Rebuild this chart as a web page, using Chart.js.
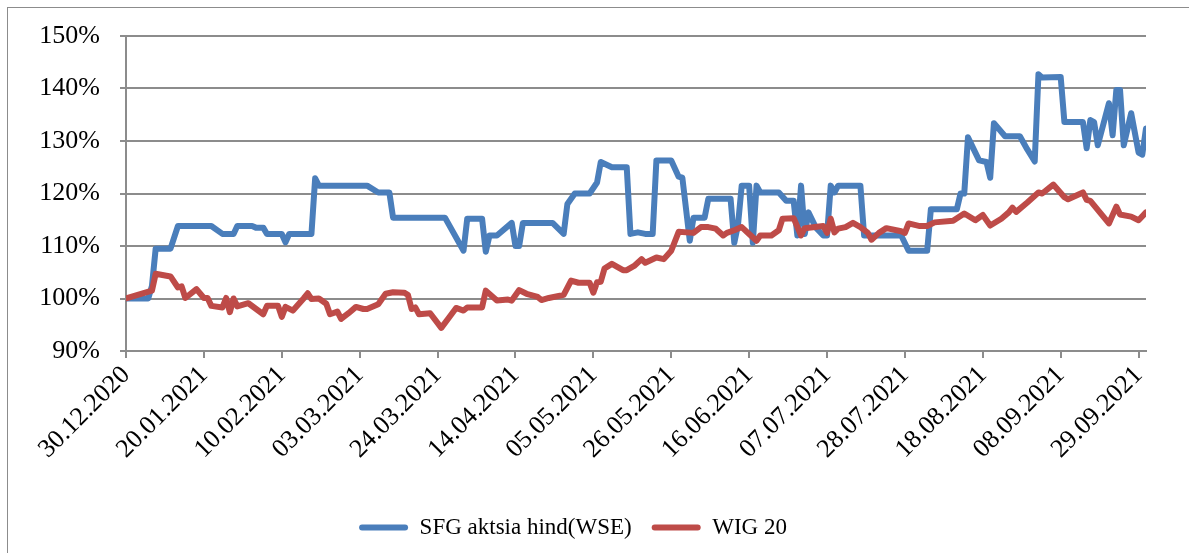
<!DOCTYPE html>
<html>
<head>
<meta charset="utf-8">
<script src="https://cdn.jsdelivr.net/npm/chart.js@4.4.0/dist/chart.umd.min.js"></script>
<style>
  html, body { margin: 0; padding: 0; background: #fff; }
  #wrap { position: relative; width: 1189px; height: 553px; overflow: hidden; }
  #frame { position: absolute; left: 7px; top: 7px; width: 1200px; height: 600px;
           border-left: 1px solid #8c8c8c; border-top: 1px solid #8c8c8c; }
  canvas { position: absolute; left: 0; top: 0; }
</style>
</head>
<body>
<div id="wrap">
  <div id="frame"></div>
  <canvas id="chart" width="1189" height="553"></canvas>
</div>
<script>
// days counted from 30.12.2020, values in %
const sfgDays = [0, 6, 7, 8, 12, 14, 23, 26, 29, 30, 34, 35, 37, 38, 42, 43, 44, 50, 51, 52,
  65, 68, 71, 72, 86, 91, 92, 96, 97, 98, 100, 104, 105, 106, 107, 115, 118, 119, 121, 125,
  127, 128, 131, 135, 136, 138, 140, 142, 143, 147, 149, 150, 152, 153, 156, 157, 163, 164, 165, 166,
  168, 169, 170, 171, 176, 178, 180, 181, 182, 183, 184, 186, 188, 189, 190, 191, 192, 198, 199, 209,
  211, 216, 217, 224, 225, 226, 227, 230, 232, 233, 234, 237, 241, 243, 245, 246, 247, 252, 253, 258,
  259, 260, 261, 262, 265, 266, 267, 268, 269, 271, 273, 274, 275];
const sfgValues = [100, 100, 102.4, 109.5, 109.5, 113.8, 113.8, 112.3, 112.3, 113.8, 113.8, 113.5, 113.5, 112.3, 112.3, 110.7, 112.3, 112.3, 122.9, 121.5,
  121.5, 120.2, 120.2, 115.4, 115.4, 109.1, 115.2, 115.2, 108.9, 112, 112, 114.4, 110, 110, 114.4, 114.4, 112.3, 118, 120, 120,
  122.1, 126, 125, 125, 112.3, 112.6, 112.3, 112.3, 126.3, 126.3, 123.2, 123, 111, 115.4, 115.4, 119, 119, 110.6, 114, 121.5,
  121.5, 110.6, 121.5, 120.2, 120.2, 118.6, 118.6, 112, 121.5, 112.3, 116.4, 113.5, 112, 112, 121.5, 120.2, 121.5, 121.5, 112, 112,
  109.1, 109.1, 117, 117, 120, 120, 130.7, 126.3, 126, 123, 133.4, 130.9, 130.9, 128.4, 126.1, 142.7, 142.1, 142.2, 133.6, 133.6,
  128.6, 134, 133.6, 129.2, 137.2, 131.1, 139.7, 139.7, 129.2, 135.3, 127.8, 127.4, 132.4];

const wigDays = [0, 7, 8, 12, 14, 15, 16, 19, 21, 22, 23, 26, 27, 28, 29, 30, 33, 37, 38, 41,
  42, 43, 45, 48, 49, 50, 52, 54, 55, 57, 58, 60, 62, 64, 65, 68, 70, 72, 75, 76,
  77, 78, 79, 82, 85, 87, 89, 91, 92, 96, 97, 100, 103, 104, 106, 108, 111, 112, 114, 118,
  120, 122, 125, 126, 127, 128, 129, 131, 134, 135, 137, 139, 140, 143, 145, 147, 149, 153, 155, 157,
  159, 161, 162, 164, 166, 168, 170, 171, 174, 176, 177, 180, 182, 183, 188, 189, 190, 191, 192, 194,
  196, 198, 200, 201, 203, 205, 209, 210, 211, 214, 216, 218, 223, 226, 229, 231, 233, 236, 238, 239,
  240, 243, 246, 247, 250, 253, 254, 258, 259, 260, 265, 267, 268, 271, 273, 275];
const wigValues = [100, 101.5, 104.7, 104.2, 102.1, 102.3, 100.1, 101.8, 100.1, 100.1, 98.6, 98.3, 100.1, 97.4, 100, 98.5, 99.1, 97, 98.6, 98.6,
  96.5, 98.4, 97.7, 100.1, 101, 99.9, 100, 99, 97, 97.5, 96.1, 97.2, 98.4, 98, 98, 98.9, 100.9, 101.2, 101.1, 100.7,
  98, 98.3, 97, 97.2, 94.4, 96.3, 98.2, 97.7, 98.3, 98.3, 101.5, 99.6, 99.8, 99.6, 101.6, 100.9, 100.3, 99.7, 100.1, 100.7,
  103.4, 103, 103, 101.1, 103.1, 103.2, 105.7, 106.6, 105.4, 105.4, 106.2, 107.5, 106.8, 107.8, 107.5, 109.1, 112.7, 112.5, 113.6, 113.6,
  113.3, 112, 112.5, 113, 113.6, 112.3, 111, 112, 112, 113, 115.2, 115.3, 112, 113.4, 113.8, 112.5, 115.2, 112.6, 113.3, 113.6,
  114.4, 113.6, 112.5, 111.2, 112.5, 113.4, 112.8, 112.5, 114.3, 113.8, 113.8, 114.5, 114.8, 116.2, 114.9, 115.9, 113.9, 115.2, 116.4, 117.3,
  116.5, 118.3, 120.2, 120, 121.7, 119.3, 118.9, 120.2, 118.8, 118.6, 114.3, 117.5, 116, 115.6, 114.9, 116.4];

const yTicks = [90, 100, 110, 120, 130, 140, 150];
const seriesNames = ['SFG aktsia hind(WSE)', 'WIG 20'];

const startDate = Date.UTC(2020, 11, 30);
const pad2 = n => String(n).padStart(2, '0');
function dayLabel(d) {
    const dt = new Date(startDate + d * 86400000);
    return pad2(dt.getUTCDate()) + '.' + pad2(dt.getUTCMonth() + 1) + '.' + dt.getUTCFullYear();
}

const gridGray = '#8c8c8c';
const tickFont = { family: 'Liberation Serif', size: 26 };

new Chart(document.getElementById('chart'), {
    type: 'line',
    data: {
        datasets: [
            {
                label: seriesNames[0],
                data: sfgDays.map((d, i) => ({ x: d, y: sfgValues[i] })),
                borderColor: '#4A7EBB',
                backgroundColor: '#4A7EBB',
                borderWidth: 6,
                pointRadius: 0,
                tension: 0,
                borderJoinStyle: 'round',
                borderCapStyle: 'round',
                order: 1
            },
            {
                label: seriesNames[1],
                data: wigDays.map((d, i) => ({ x: d, y: wigValues[i] })),
                borderColor: '#BE4B48',
                backgroundColor: '#BE4B48',
                borderWidth: 6,
                pointRadius: 0,
                tension: 0,
                borderJoinStyle: 'round',
                borderCapStyle: 'round',
                order: 0
            }
        ]
    },
    options: {
        responsive: false,
        animation: false,
        layout: { padding: { left: 0, top: 36, right: 43, bottom: 4 } },
        plugins: {
            tooltip: { enabled: false },
            legend: {
                position: 'bottom',
                labels: {
                    color: '#000',
                    font: { family: 'Liberation Serif', size: 23 },
                    boxWidth: 49,
                    boxHeight: 6,
                    padding: 20,
                    useBorderRadius: true,
                    borderRadius: 3,
                    sort: (a, b) => a.datasetIndex - b.datasetIndex,
                    generateLabels: chart => Chart.defaults.plugins.legend.labels.generateLabels(chart)
                        .map(item => Object.assign(item, { fillStyle: item.strokeStyle, lineWidth: 0 }))
                }
            }
        },
        scales: {
            x: {
                type: 'linear',
                min: 0,
                max: 275,
                afterFit: scale => { scale.height = 145; },
                grid: { drawOnChartArea: false, drawTicks: true, tickLength: 7, color: gridGray, lineWidth: 2 },
                border: { color: gridGray, width: 2 },
                ticks: {
                    stepSize: 21,
                    includeBounds: false,
                    autoSkip: false,
                    maxRotation: 45,
                    minRotation: 45,
                    padding: 2,
                    color: '#000',
                    font: tickFont,
                    callback: v => dayLabel(v)
                }
            },
            y: {
                min: 90,
                max: 150,
                afterFit: scale => { scale.width = 126; },
                afterBuildTicks: scale => { scale.ticks = yTicks.map(v => ({ value: v })); },
                grid: { color: gridGray, lineWidth: 2, drawTicks: true, tickLength: 6 },
                border: { color: gridGray, width: 2 },
                ticks: {
                    padding: 20,
                    color: '#000',
                    font: tickFont,
                    callback: v => v + '%'
                }
            }
        }
    }
});
</script>
</body>
</html>
